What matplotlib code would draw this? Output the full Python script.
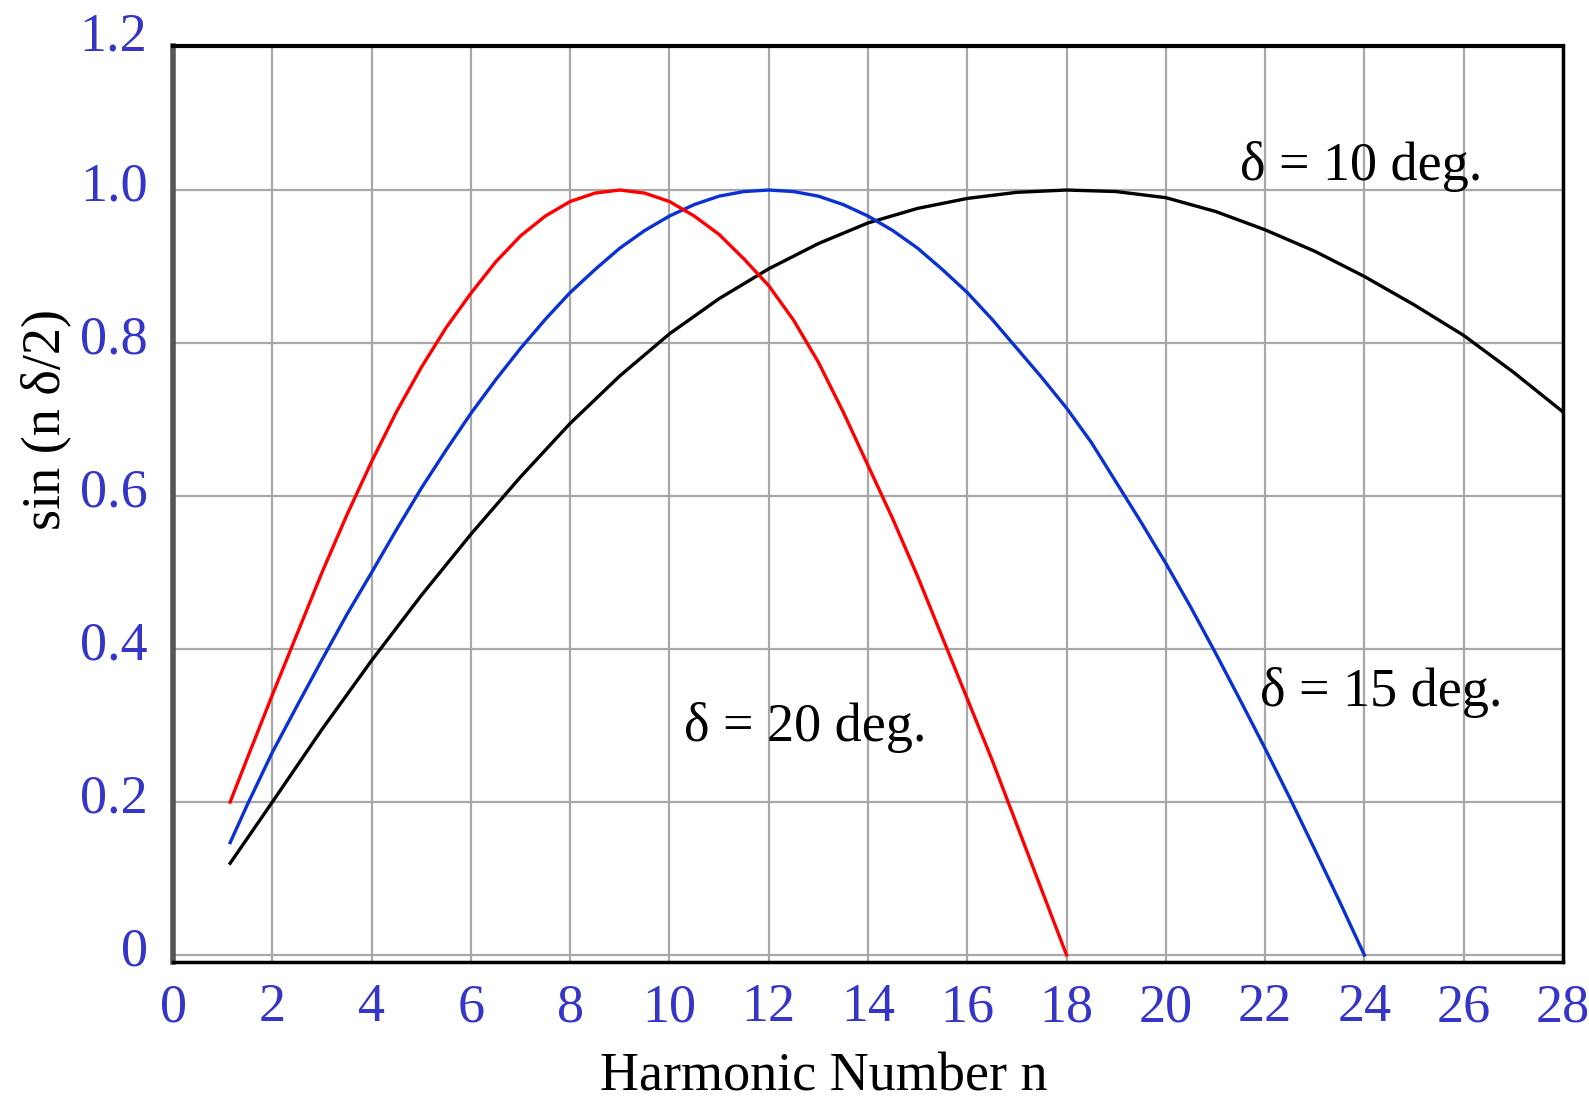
import matplotlib
matplotlib.use("Agg")
import matplotlib.pyplot as plt
import matplotlib.transforms as mtransforms

# values
n_20 = [1.15, 1.5, 2, 2.5, 3, 3.5, 4, 4.5, 5, 5.5, 6, 6.5, 7, 7.5, 8, 8.5,
        9, 9.5, 10, 10.5, 11, 11.5, 12, 12.5, 13, 13.5, 14, 14.5, 15, 15.5,
        16, 16.5, 17, 17.5, 18]
y_20 = [0.20, 0.258, 0.34, 0.42, 0.50, 0.575, 0.645, 0.71, 0.768, 0.82,
        0.865, 0.906, 0.94, 0.966, 0.985, 0.996, 1.0, 0.996, 0.985, 0.966,
        0.942, 0.91, 0.875, 0.83, 0.775, 0.71, 0.64, 0.57, 0.495, 0.415,
        0.335, 0.255, 0.17, 0.085, 0.0]

n_15 = [1.15, 1.5, 2, 2.5, 3, 3.5, 4, 4.5, 5, 5.5, 6, 6.5, 7, 7.5, 8, 8.5,
        9, 9.5, 10, 10.5, 11, 11.5, 12, 12.5, 13, 13.5, 14, 14.5, 15, 15.5,
        16, 16.5, 17, 17.5, 18, 18.5, 19, 19.5, 20, 20.5, 21, 21.5, 22,
        22.5, 23, 23.5, 24]
y_15 = [0.147, 0.197, 0.265, 0.326, 0.386, 0.445, 0.50, 0.556, 0.61, 0.66,
        0.708, 0.752, 0.793, 0.831, 0.866, 0.896, 0.924, 0.947, 0.966,
        0.981, 0.992, 0.998, 1.0, 0.998, 0.992, 0.981, 0.966, 0.947, 0.924,
        0.896, 0.866, 0.831, 0.793, 0.755, 0.715, 0.67, 0.618, 0.566,
        0.512, 0.455, 0.395, 0.333, 0.27, 0.205, 0.138, 0.07, 0.0]

n_10 = [1.15, 2, 3, 4, 5, 6, 7, 8, 9, 10, 11, 12, 13, 14, 15, 16, 17, 18,
        19, 20, 21, 22, 23, 24, 25, 26, 27, 28]
y_10 = [0.12, 0.20, 0.295, 0.385, 0.47, 0.55, 0.625, 0.695, 0.757, 0.812,
        0.858, 0.897, 0.93, 0.957, 0.976, 0.989, 0.997, 1.0, 0.998, 0.99,
        0.972, 0.948, 0.92, 0.887, 0.85, 0.81, 0.762, 0.71]

x_ticks = list(range(0, 29, 2))
y_ticks = [0.0, 0.2, 0.4, 0.6, 0.8, 1.0]
y_tick_labels = ["0", "0.2", "0.4", "0.6", "0.8", "1.0"]

curve_labels = ["δ = 10 deg.", "δ = 15 deg.", "δ = 20 deg."]
label_pos = [(21.5, 1.013), (21.9, 0.326), (10.3, 0.28)]

TICK_BLUE = "#3535c8"
FONT = "Liberation Serif"
FS = 39

fig = plt.figure(figsize=(15.89, 11.0), dpi=100)
ax = fig.add_axes([0.1089, 0.1255, 0.8747, 0.8325])

ax.plot(n_10, y_10, color="black", lw=2.4, zorder=3)
ax.plot(n_15, y_15, color="#0a32d2", lw=2.4, zorder=3)
ax.plot(n_20, y_20, color="#ff0000", lw=2.4, zorder=3)

ax.set_xlim(0, 28)
ax.set_ylim(-0.009, 1.188)

ax.set_xticks(x_ticks)
ax.set_xticklabels([str(v) for v in x_ticks])
ax.set_yticks(y_ticks)
ax.set_yticklabels(y_tick_labels)
ax.grid(True, color="#a8a8a8", lw=1.6)
ax.set_axisbelow(True)

ax.tick_params(axis="both", length=0, labelsize=FS, labelcolor=TICK_BLUE)
ax.tick_params(axis="x", pad=15)
ax.tick_params(axis="y", pad=18)
for lab in ax.get_xticklabels() + ax.get_yticklabels():
    lab.set_fontfamily(FONT)

# nudge tick labels like the original
dx = mtransforms.ScaledTranslation(0, 0, fig.dpi_scale_trans)
dy = mtransforms.ScaledTranslation(0, 9 / 100, fig.dpi_scale_trans)
for lab in ax.get_xticklabels():
    lab.set_transform(lab.get_transform() + dx)
for lab in ax.get_yticklabels():
    lab.set_transform(lab.get_transform() + dy)

# 1.2 sits just above the top of the frame
ax.text(-0.019, 1.2, "1.2", transform=ax.get_yaxis_transform(),
        ha="right", va="center", fontsize=FS, color=TICK_BLUE,
        family=FONT, clip_on=False)

ax.spines["left"].set_color("#555555")
ax.spines["left"].set_linewidth(4)
ax.spines["top"].set_color("black")
ax.spines["top"].set_linewidth(3)
ax.spines["bottom"].set_color("black")
ax.spines["bottom"].set_linewidth(2.5)
ax.spines["right"].set_color("black")
ax.spines["right"].set_linewidth(2.5)

for text, (x, y) in zip(curve_labels, label_pos):
    ax.text(x, y, text, fontsize=FS, family=FONT, color="black",
            ha="left", va="baseline")

fig.text(0.5186, 0.009, "Harmonic Number n", fontsize=FS, family=FONT,
         ha="center", va="baseline")
fig.text(0.029, 0.619, "sin (n δ/2)", fontsize=FS, family=FONT,
         ha="center", va="center", rotation=90)

fig.savefig("out.png", dpi=100)
